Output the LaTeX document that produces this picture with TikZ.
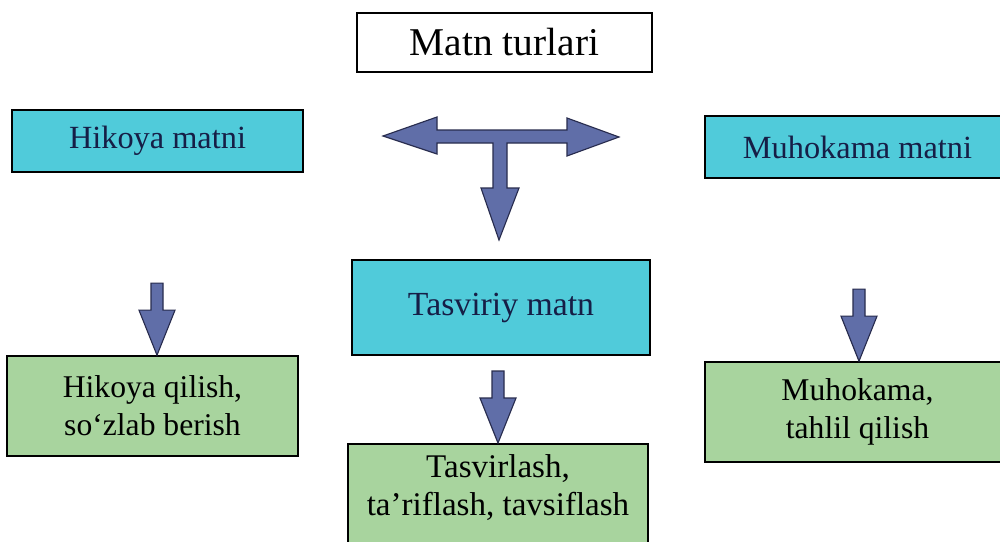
\documentclass[tikz,border=0pt]{standalone}
\usepackage{fontspec}
\setmainfont{Liberation Serif}
\definecolor{BoxCyan}{RGB}{80,203,218}
\definecolor{BoxGreen}{RGB}{168,212,158}
\definecolor{ArrowBlue}{RGB}{96,110,168}
\definecolor{ArrowEdge}{RGB}{40,44,78}
\definecolor{InkBlue}{RGB}{22,30,70}
\tikzset{
  titlebox/.style={draw=black,fill=white,line width=1.2pt,inner sep=0pt,
    minimum width=7.375cm,minimum height=1.475cm,font=\fontsize{28}{30}\selectfont},
  kindbox/.style={draw=black,fill=BoxCyan,line width=1.2pt,inner sep=0pt,
    text=InkBlue,font=\fontsize{23}{25}\selectfont},
  taskbox/.style={draw=black,fill=BoxGreen,line width=1.2pt,inner sep=0pt,
    align=center,font=\fontsize{22.5}{27}\selectfont},
  blockarrow/.style={draw=ArrowEdge,fill=ArrowBlue,line width=0.8pt,line join=miter},
}

\begin{document}
\begin{tikzpicture}[x=0.025cm,y=-0.025cm]
  \useasboundingbox[fill=white] (0,0) rectangle (1000,541);
  % boxes
  \node[titlebox] (turlar) at (504.5,42.5) {Matn turlari};
  \node[kindbox,minimum width=7.275cm,minimum height=1.55cm] (hikoya) at (157.5,141) {Hikoya matni};
  \node[kindbox,minimum width=7.625cm,minimum height=1.55cm] (muhokama) at (857.5,147) {Muhokama matni};
  \node[kindbox,minimum width=7.45cm,minimum height=2.375cm,font=\fontsize{24}{26}\selectfont]
    (tasviriy) at (501,307.5) {Tasviriy matn};
  \node[taskbox,minimum width=7.275cm,minimum height=2.5cm] (hqilish) at (152.5,406) {Hikoya qilish,\\so‘zlab berish};
  \node[taskbox,minimum width=7.625cm,minimum height=2.5cm] (mtahlil) at (857.5,412) {Muhokama,\\tahlil qilish};
  \node[taskbox,minimum width=7.5cm,anchor=north,inner ysep=0.27cm,text depth=2cm,
    font=\fontsize{23.5}{27}\selectfont] (tasvirlash) at (498,443) {Tasvirlash,\\ta’riflash, tavsiflash};
  % three-way arrow
  \draw[blockarrow] (383,136) -- (437,117) -- (437,130) -- (567,130) -- (567,118)
    -- (619,137) -- (567,156) -- (567,143) -- (507,143) -- (507,188) -- (519,188)
    -- (499,240) -- (481,188) -- (493,188) -- (493,143) -- (437,143) -- (437,154) -- cycle;
  % down arrows
  \foreach \dst/\dx in {hqilish/4.5,tasvirlash/0,mtahlil/1.5}
    \draw[blockarrow] ([xshift=\dx*0.025cm]\dst.north) -- ++(-18,-45) -- ++(12,0) -- ++(0,-27)
      -- ++(12,0) -- ++(0,27) -- ++(12,0) -- cycle;
\end{tikzpicture}
\end{document}
